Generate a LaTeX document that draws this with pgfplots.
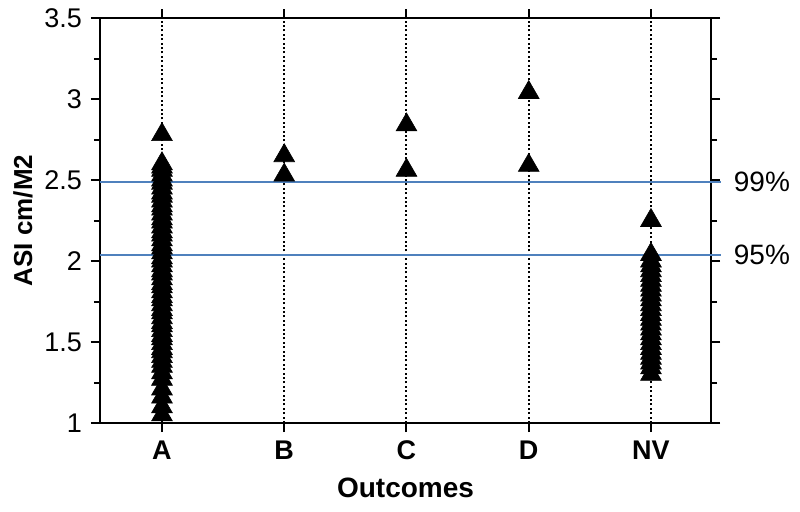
\documentclass[border=0pt]{standalone}
\usepackage{fontspec}
\setmainfont{Liberation Sans}
\usepackage{pgfplots}
\pgfplotsset{compat=1.18}
\definecolor{refblue}{RGB}{79,129,189}
\begin{document}
\begin{tikzpicture}
\path[use as bounding box] (0,0) rectangle (400pt,255.5pt);
\begin{axis}[
  at={(50pt,44pt)}, anchor=south west,
  width=305.5pt, height=202.5pt, scale only axis,
  xmin=-0.507, xmax=4.491, ymin=1, ymax=3.5,
  clip=false,
  axis line style={line width=1pt},
  every tick/.style={line width=1pt, black},
  xtick={0,1,2,3,4}, xticklabels={A,B,C,D,NV},
  xtick pos=both, xticklabel pos=bottom,
  ytick={1,1.5,2,2.5,3,3.5}, minor y tick num=1,
  ytick pos=both, yticklabel pos=left,
  tick align=outside, major tick length=4.5pt, minor tick length=3pt,
  /pgf/number format/assume math mode=true,
  yticklabel style={font=\fontsize{13.5}{15}\selectfont, xshift=-1pt},
  xticklabel style={font=\fontsize{13.5}{15}\bfseries, yshift=-1pt},
  xmajorgrids, major x grid style={black, line width=1pt, dash pattern=on 1pt off 1.2pt},
  xlabel={\fontsize{14}{16}\selectfont\bfseries Outcomes},
  xlabel style={yshift=-2pt},
  ylabel={\fontsize{13}{15}\selectfont\bfseries ASI cm/M2},
  ylabel style={yshift=-1pt},
]
\addplot[refblue, line width=1pt, forget plot] coordinates {(-0.507,2.49) (4.575,2.49)};
\addplot[refblue, line width=1pt, forget plot] coordinates {(-0.507,2.035) (4.575,2.035)};
\node[anchor=west, inner sep=0pt, font=\fontsize{14}{17}\selectfont] at (axis cs:4.675,2.49) {99\%};
\node[anchor=west, inner sep=0pt, font=\fontsize{14}{17}\selectfont] at (axis cs:4.675,2.035) {95\%};
\addplot[only marks, mark=triangle*, mark size=6pt, mark options={fill=black, draw=black, line width=0.3pt}] coordinates {
(0,1.05) (0,1.10) (0,1.16) (0,1.21) (0,1.27) (0,1.31) (0,1.35) (0,1.38) (0,1.41) (0,1.44)
(0,1.46) (0,1.49) (0,1.52) (0,1.54) (0,1.57) (0,1.60) (0,1.62) (0,1.65) (0,1.68) (0,1.70)
(0,1.73) (0,1.76) (0,1.78) (0,1.81) (0,1.84) (0,1.86) (0,1.89) (0,1.92) (0,1.94) (0,1.97)
(0,2.00) (0,2.02) (0,2.05) (0,2.08) (0,2.10) (0,2.13) (0,2.16) (0,2.18) (0,2.21) (0,2.24)
(0,2.26) (0,2.29) (0,2.32) (0,2.34) (0,2.37) (0,2.40) (0,2.42) (0,2.45) (0,2.48) (0,2.50)
(0,2.53) (0,2.56) (0,2.58) (0,2.60) (0,2.78)
(1,2.53) (1,2.65)
(2,2.56) (2,2.84)
(3,2.59) (3,3.04)
(4,1.30) (4,1.34) (4,1.37) (4,1.40) (4,1.43) (4,1.46) (4,1.49) (4,1.52) (4,1.55) (4,1.58)
(4,1.61) (4,1.64) (4,1.67) (4,1.70) (4,1.73) (4,1.76) (4,1.79) (4,1.82) (4,1.85) (4,1.88)
(4,1.91) (4,1.94) (4,1.97) (4,2.00) (4,2.04) (4,2.25)
};
\end{axis}
\end{tikzpicture}
\end{document}
